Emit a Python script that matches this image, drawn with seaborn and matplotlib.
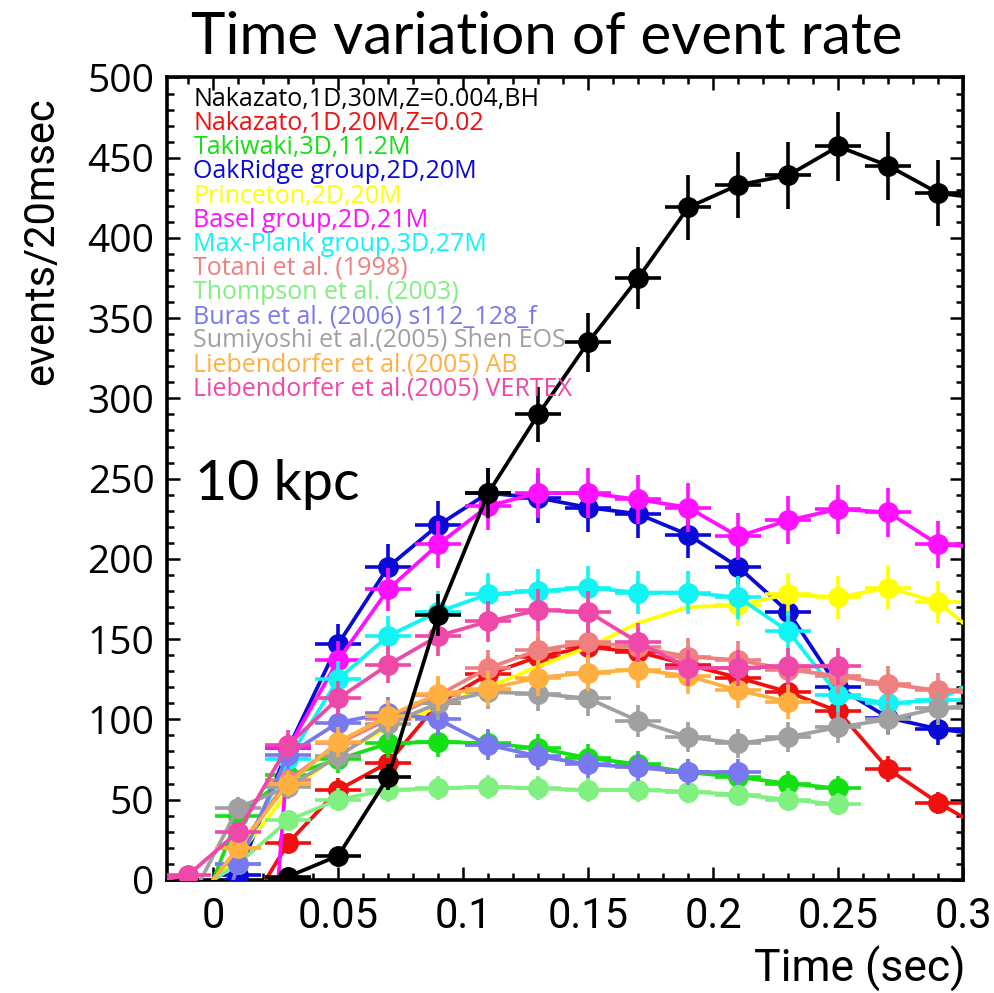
import numpy as np
import matplotlib
matplotlib.use("Agg")
import matplotlib.pyplot as plt
import seaborn as sns
from matplotlib.ticker import MultipleLocator, FuncFormatter

nan = np.nan

# bin centres (sec), 20 msec bins
t_bins = [-0.01, 0.01, 0.03, 0.05, 0.07, 0.09, 0.11, 0.13, 0.15,
          0.17, 0.19, 0.21, 0.23, 0.25, 0.27, 0.29]

# events / 20 msec
nakazato_30m = [nan, nan, 2, 15, 64, 165, 241, 290, 335, 375, 419, 433, 439, 457, 445, 428]
nakazato_20m = [nan, nan, 23, 56, 73, 110, 128, 139, 145, 142, 134, 126, 117, 105, 69, 48]
takiwaki = [nan, 40, 65, 75, 85, 86, 85, 82, 76, 72, 67, 64, 60, 57, nan, nan]
oakridge = [nan, 3, 82, 147, 195, 221, 241, 238, 232, 228, 215, 195, 167, 120, 101, 94]
princeton = [nan, 15, 55, 78, 95, 108, 120, 133, 145, 160, 170, 171, 178, 176, 182, 173]
basel = [nan, nan, 82, 137, 181, 209, 233, 241, 241, 237, 232, 214, 224, 231, 229, 209]
max_plank = [nan, 10, 75, 125, 152, 167, 178, 180, 182, 179, 179, 176, 155, 115, 110, 112]
totani = [nan, 20, 62, 85, 100, 115, 132, 143, 148, 145, 139, 137, 131, 127, 122, 118]
thompson = [nan, 10, 37, 50, 56, 57, 58, 57, 56, 56, 55, 53, 50, 47, nan, nan]
buras = [nan, 10, 78, 98, 104, 100, 84, 77, 72, 70, 67, 67, nan, nan, nan, nan]
sumiyoshi = [nan, 45, 58, 77, 97, 110, 117, 116, 113, 99, 89, 85, 89, 95, 100, 107]
lieb_ab = [nan, 20, 60, 86, 102, 116, 119, 126, 129, 131, 127, 118, 111, nan, nan, nan]
lieb_vertex = [3, 30, 84, 113, 134, 152, 161, 168, 167, 148, 132, 132, 133, 133, nan, nan]

labels = ["Nakazato,1D,30M,Z=0.004,BH", "Nakazato,1D,20M,Z=0.02", "Takiwaki,3D,11.2M",
          "OakRidge group,2D,20M", "Princeton,2D,20M", "Basel group,2D,21M",
          "Max-Plank group,3D,27M", "Totani et al. (1998)", "Thompson et al. (2003)",
          "Buras et al. (2006) s112_128_f", "Sumiyoshi et al.(2005) Shen EOS",
          "Liebendorfer et al.(2005) AB", "Liebendorfer et al.(2005) VERTEX"]
colors = ["#000000", "#f01010", "#14e014", "#0a0ad8", "#ffff00", "#ff10ff", "#10f4f4",
          "#f08080", "#80f080", "#7878f0", "#a0a0a0", "#ffb040", "#f048a8"]
series = [nakazato_30m, nakazato_20m, takiwaki, oakridge, princeton, basel, max_plank,
          totani, thompson, buras, sumiyoshi, lieb_ab, lieb_vertex]

# time where each curve leaves zero, and value at 0.3 sec for curves running to the edge
line_t0 = [0.025, 0.021, 0.0, 0.005, 0.0, 0.026, 0.0, 0.0, 0.0, 0.008, -0.005, 0.0, -0.02]
line_end = [426, 39, nan, 92, 160, 208, 120, 117, nan, nan, 108, nan, nan]
first_marker = [0, 0, 0, 0, 11, 0, 0, 0, 0, 0, 0, 0, 0]

sns.set_style("ticks")
plt.rcParams.update({"text.color": "black", "axes.labelcolor": "black",
                     "xtick.color": "black", "ytick.color": "black"})
fig = plt.figure(figsize=(9.94, 9.93), dpi=100)
ax = fig.add_axes([0.168, 0.114, 0.801, 0.808])

for i, vals in enumerate(series):
    z = 20 if i == 0 else 2 + i
    tt = [line_t0[i]] + [t for t, v in zip(t_bins, vals) if not np.isnan(v)]
    vv = [0] + [v for v in vals if not np.isnan(v)]
    if not np.isnan(line_end[i]):
        tt.append(0.30)
        vv.append(line_end[i])
    sns.lineplot(x=tt, y=vv, color=colors[i], linewidth=2.7, sort=False,
                 estimator=None, ax=ax, zorder=z)
    mt = [t for j, (t, v) in enumerate(zip(t_bins, vals)) if not np.isnan(v) and j >= first_marker[i]]
    mv = [v for j, v in enumerate(vals) if not np.isnan(v) and j >= first_marker[i]]
    ax.errorbar(mt, mv, xerr=0.0092, yerr=np.sqrt(mv), fmt="o", color=colors[i],
                markersize=14, elinewidth=2.6, capsize=0, zorder=z)

ax.set_xlim(-0.0185, 0.3)
ax.set_ylim(0, 500)
ax.xaxis.set_major_locator(MultipleLocator(0.05))
ax.xaxis.set_minor_locator(MultipleLocator(0.01))
ax.yaxis.set_major_locator(MultipleLocator(50))
ax.yaxis.set_minor_locator(MultipleLocator(10))
ax.xaxis.set_major_formatter(FuncFormatter(lambda x, p: "0" if abs(x) < 1e-9 else f"{x:g}"))
ax.tick_params(which="both", direction="in", top=True, right=True, width=1.8, color="black")
ax.tick_params(which="major", length=9.5)
ax.tick_params(which="minor", length=5)
ax.tick_params(axis="y", labelsize=28, pad=9)
ax.tick_params(axis="x", labelsize=30, pad=12)
for lab in ax.get_yticklabels():
    lab.set_family(["Open Sans", "DejaVu Sans"])
for lab in ax.get_xticklabels():
    lab.set_family(["Roboto", "DejaVu Sans"])
for sp in ax.spines.values():
    sp.set_linewidth(2.6)
    sp.set_color("black")

# coloured legend text
for i, lab in enumerate(labels):
    ax.text(0.033, 0.9726 - i * 0.0301, lab, color=colors[i], fontsize=18,
            family=["Open Sans", "DejaVu Sans"], va="center", ha="left",
            transform=ax.transAxes, zorder=30)

ax.text(0.035, 0.4925, "10 kpc", fontsize=40, family=["Lato", "DejaVu Sans"],
        va="center", ha="left", transform=ax.transAxes, zorder=30)

fig.text(0.55, 0.962, "Time variation of event rate", fontsize=42,
         family=["Lato", "DejaVu Sans"], ha="center", va="center")
fig.text(0.971, 0.024, "Time (sec)", fontsize=32, family=["Roboto", "DejaVu Sans"],
         ha="right", va="center")
fig.text(0.042, 0.757, "events/20msec", fontsize=30, rotation=90,
         family=["Roboto", "DejaVu Sans"], ha="center", va="center")

fig.savefig("out.png", dpi=100)
